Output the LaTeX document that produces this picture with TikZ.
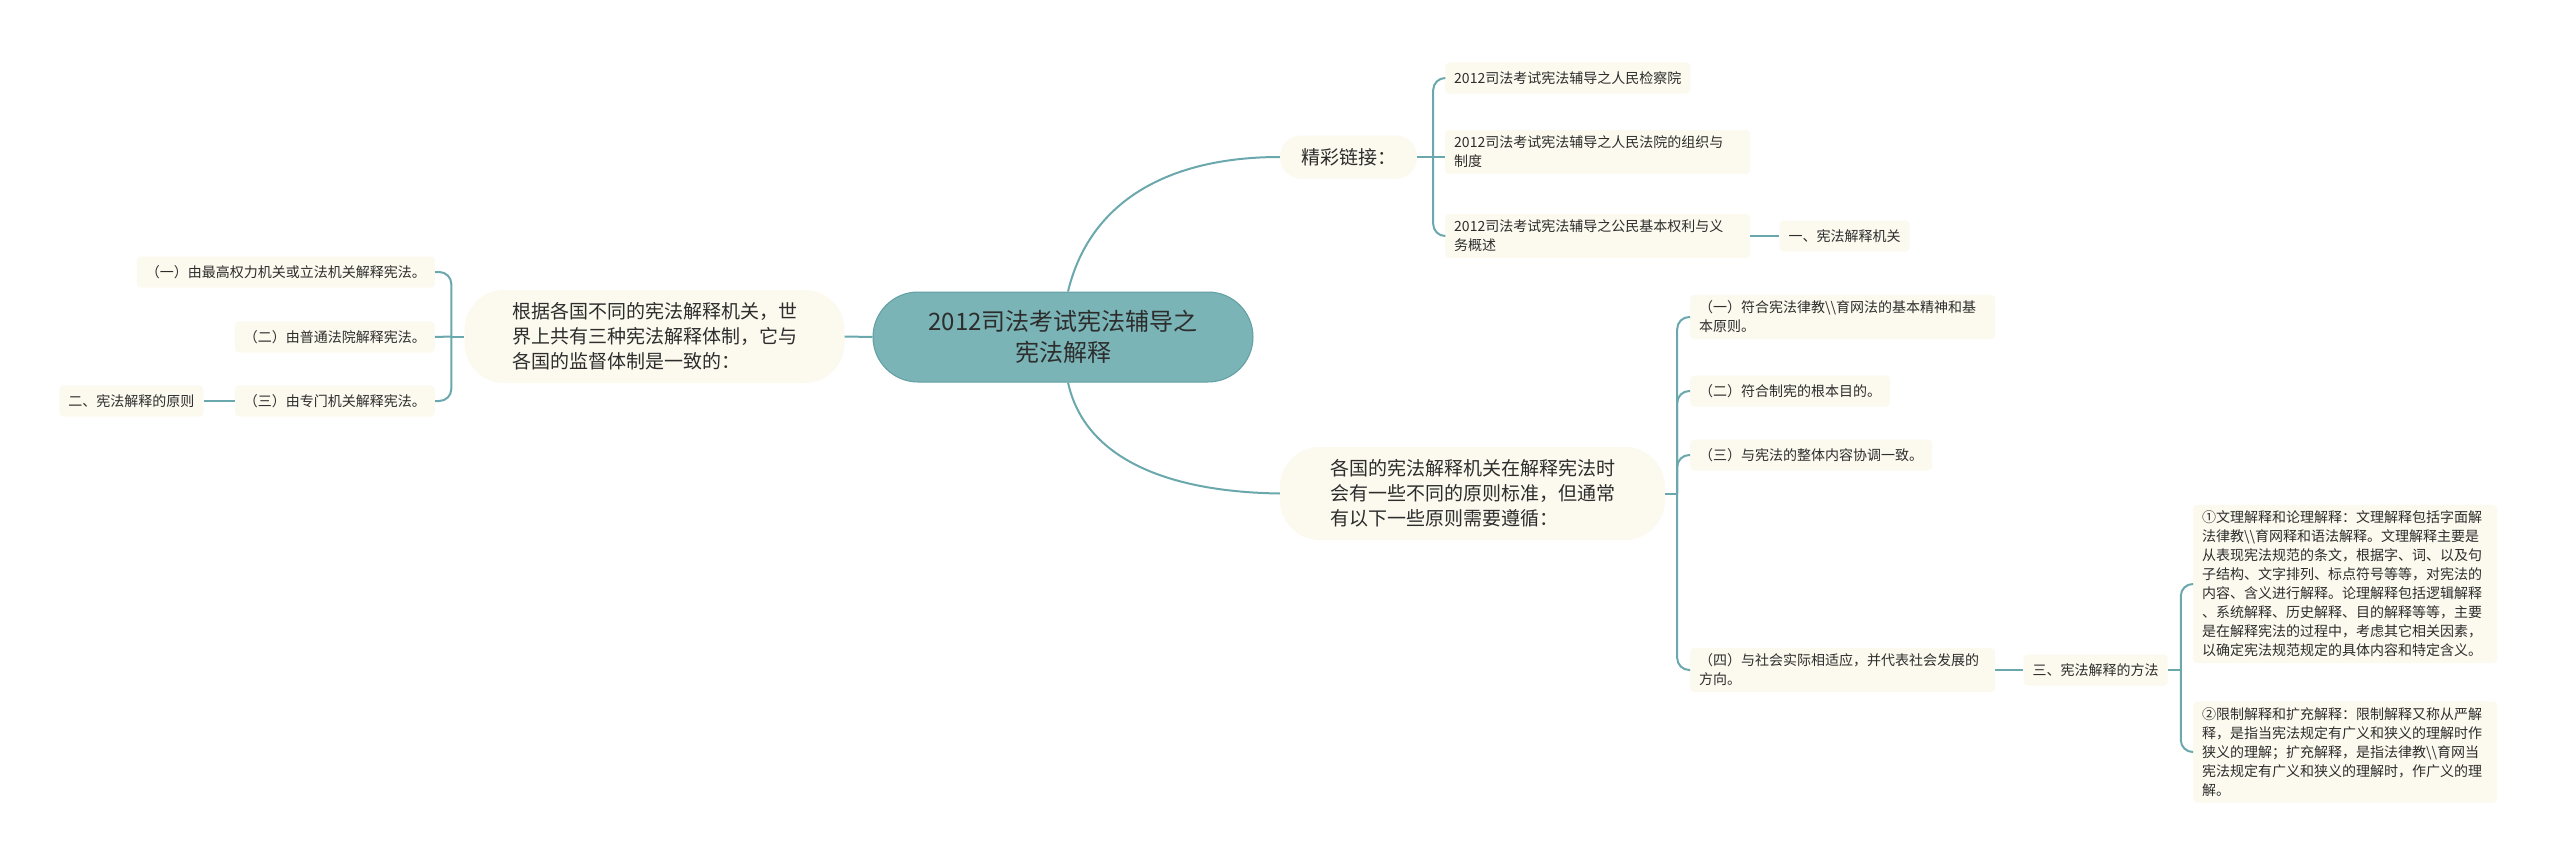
\documentclass[tikz,border=0pt]{standalone}
\usepackage{fontspec}
\setmainfont{Noto Sans CJK SC}
\usepackage{tikz}
\usetikzlibrary{positioning}
\definecolor{hubfill}{RGB}{122,180,182}
\definecolor{hubline}{RGB}{98,158,162}
\definecolor{cream}{RGB}{252,249,238}
\definecolor{branch}{RGB}{107,168,173}
\definecolor{ink}{RGB}{45,45,45}

\begin{document}
\begin{tikzpicture}[
  x=1pt, y=-1pt,
  node distance=30pt,
  hub/.style={draw=hubline, line width=1pt, fill=hubfill, rounded corners=45pt, minimum width=380pt, minimum height=90pt, align=center, font=\fontsize{24}{31}\selectfont, text=ink},
  topic/.style={fill=cream, rounded corners=40pt, minimum width=380pt, minimum height=93pt, align=left, font=\fontsize{19}{25}\selectfont, text=ink},
  item/.style={fill=cream, rounded corners=4pt, inner xsep=9pt, inner ysep=6pt, minimum height=31pt, align=left, font=\fontsize{14}{19}\selectfont, text=ink},
  link/.style={draw=branch, line width=2pt},
  fork/.style={link, rounded corners=12pt}
]
  \path[use as bounding box, fill=white] (0,0) rectangle (2560,867);

  % centre and first level
  \node[hub] (cen) at (1063,337) {2012司法考试宪法辅导之\\宪法解释};
  \node[topic] (lp) at (654.5,336.5) {根据各国不同的宪法解释机关，世\\界上共有三种宪法解释体制，它与\\各国的监督体制是一致的：};
  \node[topic, minimum width=137pt, minimum height=43pt, rounded corners=21pt] (lk) at (1348.5,157) {精彩链接：};
  \node[topic, minimum width=385pt] (pr) at (1472.5,493.5) {各国的宪法解释机关在解释宪法时\\会有一些不同的原则标准，但通常\\有以下一些原则需要遵循：};

  % left branch
  \node[item, anchor=east] (a1) at (435,272) {（一）由最高权力机关或立法机关解释宪法。};
  \node[item, anchor=east] (a2) at (435,337) {（二）由普通法院解释宪法。};
  \node[item, anchor=east] (a3) at (435,401) {（三）由专门机关解释宪法。};
  \node[item, left=31pt of a3] (a4) {二、宪法解释的原则};

  % links
  \node[item, anchor=west] (c1) at (1445,78) {2012司法考试宪法辅导之人民检察院};
  \node[item, anchor=west, text width=287pt] (c2) at (1445,152) {2012司法考试宪法辅导之人民法院的组织与\\制度};
  \node[item, anchor=west, text width=287pt] (c3) at (1445,236) {2012司法考试宪法辅导之公民基本权利与义\\务概述};
  \node[item, right=29pt of c3] (c4) {一、宪法解释机关};

  % principles
  \node[item, anchor=west, text width=287pt] (r1) at (1690,317) {（一）符合宪法律教\textbackslash\textbackslash{}育网法的基本精神和基\\本原则。};
  \node[item, anchor=west] (r2) at (1690,391) {（二）符合制宪的根本目的。};
  \node[item, anchor=west] (r3) at (1690,455) {（三）与宪法的整体内容协调一致。};
  \node[item, anchor=west, text width=287pt] (r4) at (1690,670) {（四）与社会实际相适应，并代表社会发展的\\方向。};
  \node[item, right=28pt of r4] (m3) {三、宪法解释的方法};
  \node[item, anchor=west, text width=286pt] (d1) at (2193,584) {①文理解释和论理解释：文理解释包括字面解\\法律教\textbackslash\textbackslash{}育网释和语法解释。文理解释主要是\\从表现宪法规范的条文，根据字、词、以及句\\子结构、文字排列、标点符号等等，对宪法的\\内容、含义进行解释。论理解释包括逻辑解释\\、系统解释、历史解释、目的解释等等，主要\\是在解释宪法的过程中，考虑其它相关因素，\\以确定宪法规范规定的具体内容和特定含义。};
  \node[item, anchor=west, text width=286pt] (d2) at (2193,752) {②限制解释和扩充解释：限制解释又称从严解\\释，是指当宪法规定有广义和狭义的理解时作\\狭义的理解；扩充解释，是指法律教\textbackslash\textbackslash{}育网当\\宪法规定有广义和狭义的理解时，作广义的理\\解。};

  % connectors
  \draw[link] (cen.west) -- (lp.east);
  \draw[link] ([xshift=5pt]cen.north) .. controls (1090,200) and (1170,157) .. (lk.west);
  \draw[link] ([xshift=5pt]cen.south) .. controls (1085,460) and (1170,492) .. (pr.west);

  \draw[link] (lp.west) -- ++(-13,0) coordinate (lpf);
  \draw[link] (lpf) -- (a2.east);
  \draw[fork] (lpf) |- (a1.east);
  \draw[fork] (lpf) |- (a3.east);
  \draw[link] (a3.west) -- (a4.east);

  \draw[link] (lk.east) -- ++(16,0) coordinate (lkf);
  \draw[link] (lkf) -- (lkf -| c2.west);
  \draw[fork] (lkf) |- (c1.west);
  \draw[fork] (lkf) |- (c3.west);
  \draw[link] (c3.east) -- (c4.west);

  \draw[link] (pr.east) -- ++(12,0) coordinate (prf);
  \draw[fork] (prf) |- (r1.west);
  \draw[fork] (prf) |- (r2.west);
  \draw[fork] (prf) |- (r3.west);
  \draw[fork] (prf) |- (r4.west);
  \draw[link] (r4.east) -- (m3.west);

  \draw[link] (m3.east) -- ++(13,0) coordinate (m3f);
  \draw[fork] (m3f) |- (d1.west);
  \draw[fork] (m3f) |- (d2.west);
\end{tikzpicture}
\end{document}
